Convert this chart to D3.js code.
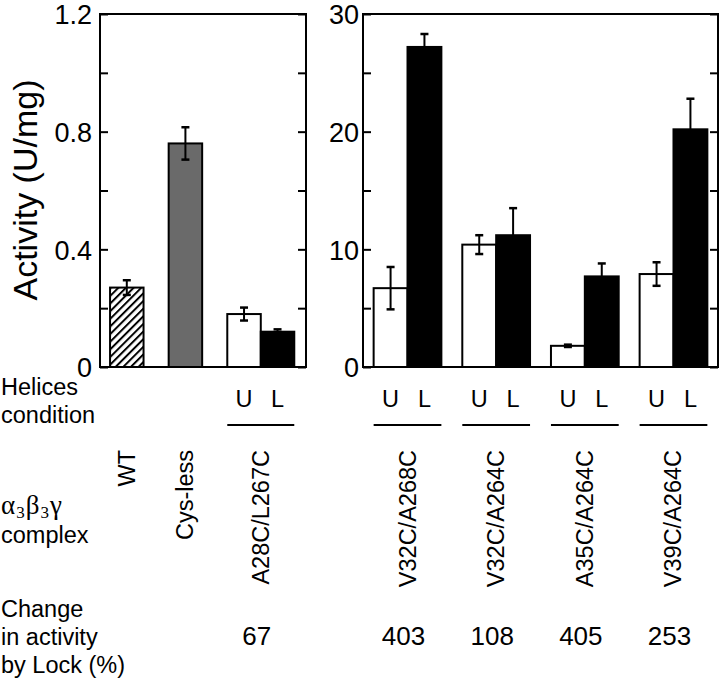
<!DOCTYPE html>
<html>
<head>
<meta charset="utf-8">
<script src="https://cdn.jsdelivr.net/npm/d3@7"></script>
<style>
  html, body { margin: 0; padding: 0; background: #fff; }
  svg { display: block; font-family: "Liberation Sans", Arial, Helvetica, sans-serif; }
</style>
</head>
<body>
<svg id="chart" width="720" height="680"></svg>
<script>
// ---------- data ----------
const singleNames = ["WT", "Cys-less"];
const singleValues = [0.27, 0.76];
const singleErrors = [0.025, 0.055];
const singleFills = ["hatch", "#6a6a6a"];

const pairNamesLeft = ["A28C/L267C"];
const pairNamesRight = ["V32C/A268C", "V32C/A264C", "A35C/A264C", "V39C/A264C"];
const conditions = ["U", "L"];
// order: A28C/L267C, V32C/A268C, V32C/A264C, A35C/A264C, V39C/A264C
const unlockedValues = [0.18, 6.7, 10.4, 1.8, 7.9];
const unlockedErrors = [0.022, 1.8, 0.8, 0.1, 1.0];
const lockedValues = [0.12, 27.2, 11.2, 7.7, 20.2];
const lockedErrors = [0.008, 1.1, 2.3, 1.1, 2.6];
const changeByLock = ["67", "403", "108", "405", "253"];

const leftTicks = [0, 0.4, 0.8, 1.2];
const leftMinorTicks = [0, 0.2, 0.4, 0.6, 0.8, 1.0, 1.2];
const rightTicks = [0, 10, 20, 30];
const rightMinorTicks = [0, 5, 10, 15, 20, 25, 30];

// ---------- layout ----------
const svg = d3.select("#chart");
const yTop = 14, yBottom = 367;
const leftPanel = { x0: 100, x1: 306 };
const rightPanel = { x0: 363, x1: 718 };
const textFont = 23.5;

const yL = d3.scaleLinear().domain([0, 1.2]).range([yBottom, yTop]);
const yR = d3.scaleLinear().domain([0, 30]).range([yBottom, yTop]);

// left panel: slots in "bar-width" units
const leftGroups = [
  { name: singleNames[0], n: 1 },
  { name: singleNames[1], n: 1 },
  { name: pairNamesLeft[0], n: 2 }
];
const padStart = 0.3, gap = 0.75, padEnd = 0.35;
let u = padStart;
leftGroups.forEach(g => { g.u0 = u; g.u1 = u + g.n; u = g.u1 + gap; });
const totalUnits = leftGroups[leftGroups.length - 1].u1 + padEnd;
const xL = d3.scaleLinear().domain([0, totalUnits]).range([leftPanel.x0, leftPanel.x1]);

// right panel: band scale
const xR = d3.scaleBand().domain(pairNamesRight).range([rightPanel.x0, rightPanel.x1])
  .paddingInner(0.236).paddingOuter(0.12);

// hatch pattern
const defs = svg.append("defs");
const pat = defs.append("pattern").attr("id", "hatch")
  .attr("patternUnits", "userSpaceOnUse").attr("width", 5.4).attr("height", 5.4)
  .attr("patternTransform", "rotate(45)");
pat.append("rect").attr("width", 5.4).attr("height", 5.4).attr("fill", "#fff");
pat.append("line").attr("x1", 1).attr("y1", 0).attr("x2", 1).attr("y2", 5.4)
  .attr("stroke", "#000").attr("stroke-width", 2);

// ---------- build bar list ----------
const bars = [];
singleNames.forEach((name, i) => {
  const g = leftGroups[i];
  bars.push({ x0: xL(g.u0), x1: xL(g.u1), v: singleValues[i], e: singleErrors[i],
    fill: singleFills[i] === "hatch" ? "url(#hatch)" : singleFills[i], y: yL });
});
const pairGroups = [];
{
  const g = leftGroups[2];
  pairGroups.push({ name: g.name, x0: xL(g.u0), x1: xL(g.u1), y: yL, idx: 0 });
}
pairNamesRight.forEach((name, i) => {
  pairGroups.push({ name, x0: xR(name), x1: xR(name) + xR.bandwidth(), y: yR, idx: i + 1 });
});
pairGroups.forEach(pg => {
  const sub = d3.scaleBand().domain(conditions).range([pg.x0, pg.x1]);
  pg.sub = sub;
  bars.push({ x0: sub("U"), x1: sub("U") + sub.bandwidth(), v: unlockedValues[pg.idx],
    e: unlockedErrors[pg.idx], fill: "#fff", y: pg.y });
  bars.push({ x0: sub("L"), x1: sub("L") + sub.bandwidth(), v: lockedValues[pg.idx],
    e: lockedErrors[pg.idx], fill: "#000", y: pg.y });
});

// ---------- bars ----------
svg.append("g").selectAll("rect").data(bars).join("rect")
  .attr("x", d => d.x0).attr("width", d => d.x1 - d.x0)
  .attr("y", d => d.y(d.v)).attr("height", d => d.y(0) - d.y(d.v))
  .attr("fill", d => d.fill).attr("stroke", "#000").attr("stroke-width", 2);

// error bars
const eg = svg.append("g").attr("stroke", "#000").attr("stroke-width", 2);
bars.forEach(d => {
  const cx = (d.x0 + d.x1) / 2;
  const yt = d.y(d.v + d.e), yb = d.y(d.v - d.e);
  eg.append("line").attr("x1", cx).attr("x2", cx).attr("y1", yt).attr("y2", yb);
  eg.append("line").attr("x1", cx - 4).attr("x2", cx + 4).attr("y1", yt).attr("y2", yt).attr("stroke-width", 2.5);
  eg.append("line").attr("x1", cx - 4).attr("x2", cx + 4).attr("y1", yb).attr("y2", yb).attr("stroke-width", 2.5);
});

// ---------- frames & ticks ----------
function frame(panel, yScale, minor, major, labelX, fmt) {
  const g = svg.append("g");
  g.append("rect").attr("x", panel.x0).attr("y", yTop)
    .attr("width", panel.x1 - panel.x0).attr("height", yBottom - yTop)
    .attr("fill", "none").attr("stroke", "#000").attr("stroke-width", 2);
  const axL = d3.axisLeft(yScale).tickValues(minor).tickSize(-8).tickFormat("");
  const axR = d3.axisRight(yScale).tickValues(minor).tickSize(-8).tickFormat("");
  const gl = g.append("g").attr("transform", `translate(${panel.x0},0)`).call(axL);
  const gr = g.append("g").attr("transform", `translate(${panel.x1},0)`).call(axR);
  [gl, gr].forEach(a => {
    a.select(".domain").remove();
    a.selectAll("line").attr("stroke", "#000").attr("stroke-width", 2);
  });
  const lab = d3.axisLeft(yScale).tickValues(major).tickSize(0).tickPadding(0).tickFormat(fmt);
  const ga = g.append("g").attr("transform", `translate(${labelX},0)`).call(lab);
  ga.select(".domain").remove();
  ga.selectAll("text").attr("font-size", 27).attr("fill", "#000")
    .attr("font-family", "'Liberation Sans', Arial, sans-serif").attr("dy", "0.36em");
}
frame(leftPanel, yL, leftMinorTicks, leftTicks, 92, d => d === 0 ? "0" : d3.format(".1f")(d));
frame(rightPanel, yR, rightMinorTicks, rightTicks, 359, d3.format("d"));

// y axis title
svg.append("text").attr("transform", "translate(37,190) rotate(-90)")
  .attr("text-anchor", "middle").attr("font-size", 34).text("Activity (U/mg)");

// ---------- bottom annotations ----------
const lab = svg.append("g").attr("font-size", textFont).attr("fill", "#000");
lab.append("text").attr("x", 1).attr("y", 395).text("Helices");
lab.append("text").attr("x", 1).attr("y", 423).text("condition");

// U / L labels and underlines
pairGroups.forEach(pg => {
  conditions.forEach(c => {
    lab.append("text").attr("x", pg.sub(c) + pg.sub.bandwidth() / 2).attr("y", 407)
      .attr("text-anchor", "middle").text(c);
  });
  svg.append("line").attr("x1", pg.x0).attr("x2", pg.x1).attr("y1", 425).attr("y2", 425)
    .attr("stroke", "#000").attr("stroke-width", 2);
});

// complex label (single text, subscripts via baseline shift)
const cl = lab.append("text").attr("x", 1).attr("y", 514)
  .attr("font-family", "'Liberation Serif', 'Times New Roman', serif").attr("font-size", 27)
  .attr("letter-spacing", 1);
cl.append("tspan").text("α");
cl.append("tspan").attr("font-size", 17).attr("baseline-shift", "-4").text("3");
cl.append("tspan").text("β");
cl.append("tspan").attr("font-size", 17).attr("baseline-shift", "-4").text("3");
cl.append("tspan").text("γ");
lab.append("text").attr("x", 1).attr("y", 543).text("complex");

// rotated group names
const groupCenters = [];
leftGroups.forEach(g => groupCenters.push({ name: g.name, cx: (xL(g.u0) + xL(g.u1)) / 2 }));
pairNamesRight.forEach(n => groupCenters.push({ name: n, cx: xR(n) + xR.bandwidth() / 2 }));
groupCenters.forEach(g => {
  lab.append("text").attr("transform", `translate(${g.cx},450) rotate(-90)`)
    .attr("text-anchor", "end").attr("dominant-baseline", "central").text(g.name);
});

// change in activity
lab.append("text").attr("x", 1).attr("y", 617).text("Change");
lab.append("text").attr("x", 1).attr("y", 645).text("in activity");
lab.append("text").attr("x", 1).attr("y", 673).text("by Lock (%)");
pairGroups.forEach((pg, i) => {
  lab.append("text").attr("x", (pg.x0 + pg.x1) / 2 - 4).attr("y", 645)
    .attr("text-anchor", "middle").attr("font-size", 26).text(changeByLock[i]);
});
</script>
</body>
</html>
